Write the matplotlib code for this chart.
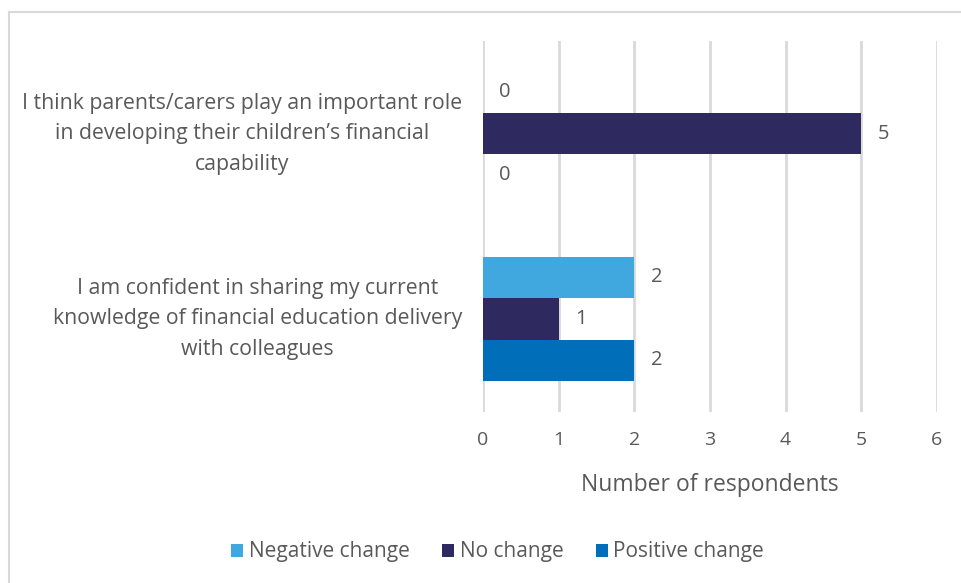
import matplotlib
matplotlib.use("Agg")
import matplotlib.pyplot as plt
from matplotlib.lines import Line2D
from matplotlib.patches import Patch

plt.rcParams['font.family'] = ['Open Sans', 'DejaVu Sans']

categories = [
    "I think parents/carers play an important role\nin developing their children\u2019s financial\ncapability",
    "I am confident in sharing my current\nknowledge of financial education delivery\nwith colleagues",
]
series_names = ["Negative change", "No change", "Positive change"]
negative_change = [0, 2]
no_change = [5, 1]
positive_change = [0, 2]
x_ticks = [0, 1, 2, 3, 4, 5, 6]

colors = ["#41A8DF", "#2E2A5F", "#006EB9"]
text_color = "#595959"
grid_color = "#D9D9D9"

W, H = 962, 583
fig = plt.figure(figsize=(W / 100, H / 100), dpi=100)
ax = fig.add_axes([483 / W, 1 - 411.5 / H, (937 - 483) / W, (411.5 - 41) / H])

# category centres, top to bottom
ypos = [1, 0]
bar_h = 41.5 / 185
offsets = [bar_h, 0, -bar_h]
values = [negative_change, no_change, positive_change]

for s, (name, vals, col, off) in enumerate(zip(series_names, values, colors, offsets)):
    ys = [y + off for y in ypos]
    ax.barh(ys, vals, height=bar_h, color=col, label=name, zorder=3)
    for y, v in zip(ys, vals):
        ax.annotate(f"{v}", xy=(v, y), xytext=(22, 0), textcoords="offset pixels",
                    ha="center", va="center", fontsize=14.5, color=text_color)

ax.set_xlim(0, 6)
ax.set_ylim(-0.5, 1.5)
ax.set_xticks(x_ticks)
ax.set_xticklabels([str(t) for t in x_ticks], fontsize=14, color=text_color)
ax.tick_params(axis="x", length=0, pad=14)
ax.set_yticks(ypos)
ax.set_yticklabels(categories, fontsize=15.3, color=text_color, multialignment="center",
                   linespacing=1.6, va="center")
ax.tick_params(axis="y", length=0, pad=15)
ax.grid(axis="x", color=grid_color, linewidth=2, zorder=0)
for sp in ax.spines.values():
    sp.set_visible(False)

ax.set_xlabel("Number of respondents", fontsize=16.5, color=text_color, labelpad=17.5)

handles = [Patch(facecolor=c, edgecolor="none") for c in colors]
fig.legend(handles, series_names, loc="center", bbox_to_anchor=(497.5 / W, 1 - 552 / H),
           ncol=3, frameon=False, fontsize=15, handlelength=0.6, handleheight=0.6,
           handletextpad=0.25, columnspacing=1.55, labelcolor=text_color)

# chart frame (left and top edges)
fig.add_artist(Line2D([9 / W, 9 / W], [0, 1 - 12 / H], transform=fig.transFigure,
                      color=grid_color, linewidth=1.5))
fig.add_artist(Line2D([9 / W, 1], [1 - 12 / H, 1 - 12 / H], transform=fig.transFigure,
                      color=grid_color, linewidth=1.5))

fig.savefig("out.png", dpi=100)
